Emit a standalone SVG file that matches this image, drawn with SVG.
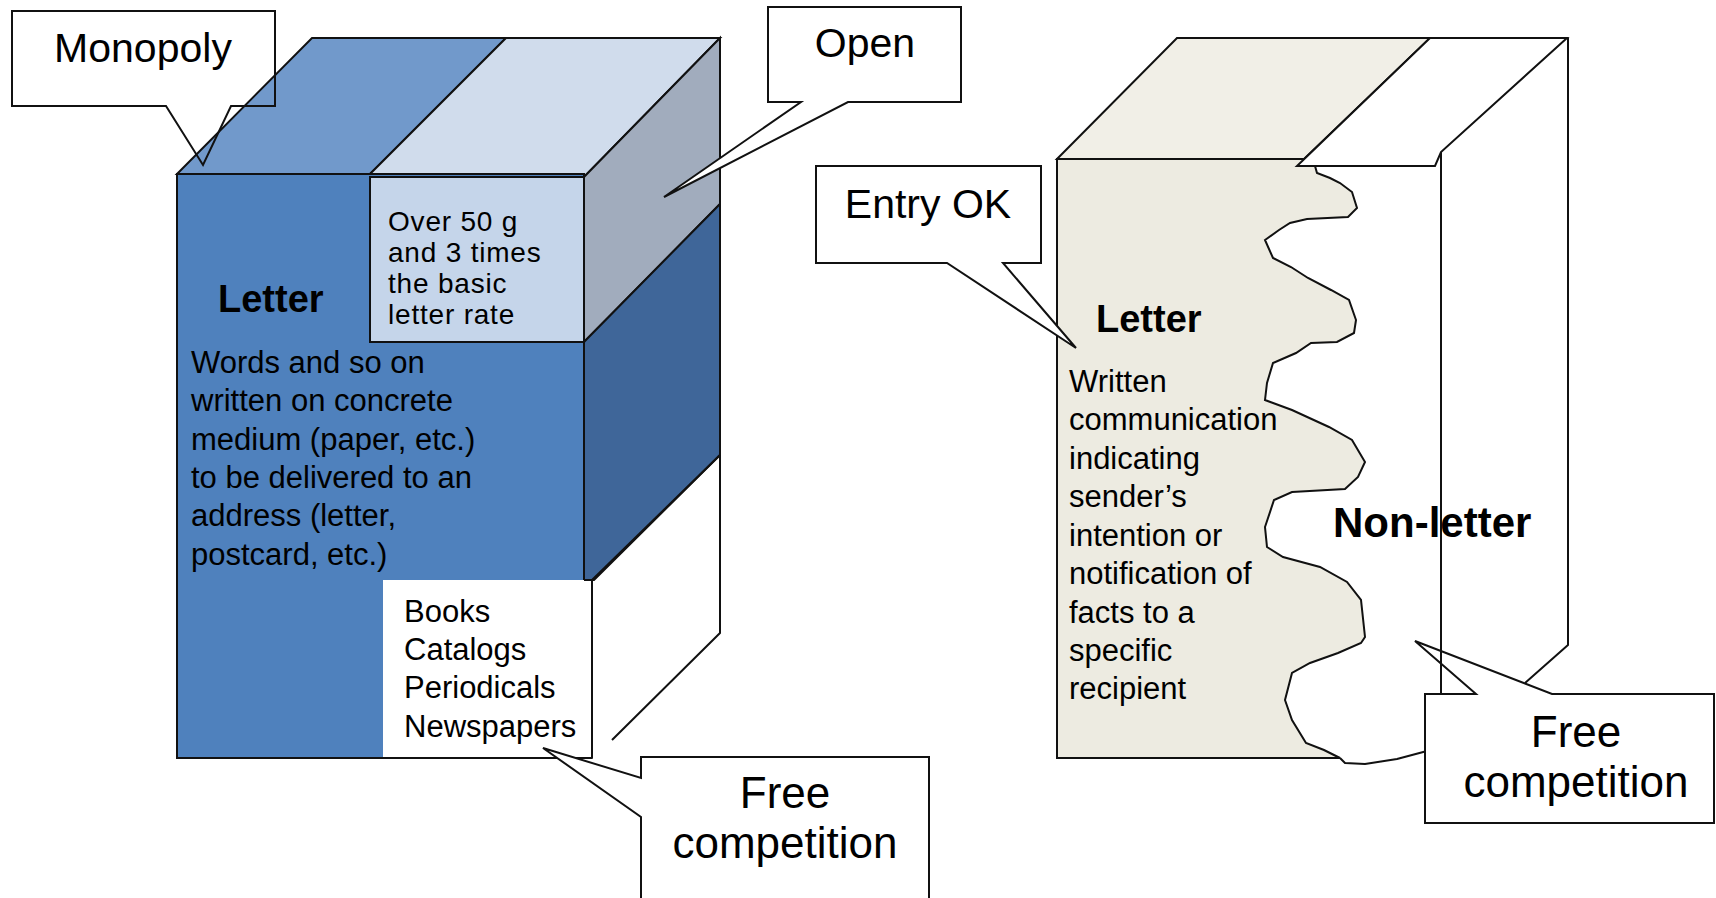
<svg xmlns="http://www.w3.org/2000/svg" width="1716" height="898" viewBox="0 0 1716 898">
<style>
.t{font-family:"Liberation Sans",Arial,sans-serif;fill:#000}
.b{font-size:31px}
.o{font-size:28px;letter-spacing:0.8px}
.c{font-size:41px;text-anchor:middle}
.f{font-size:44px;text-anchor:middle}
.h{font-weight:bold}
.s{stroke:#111;stroke-width:2;stroke-linejoin:miter}
.ln{fill:none;stroke:#111;stroke-width:2;stroke-linejoin:round}
</style>
<rect width="1716" height="898" fill="#fff"/>

<g id="cube-left">
  <polygon class="s" points="177,174 312,38 506,38 370,174" fill="#7199CB"/>
  <polygon class="s" points="370,174 506,38 720,38 584,177" fill="#D0DCEC"/>
  <polygon class="s" points="584,177 720,38 720,204 584,342" fill="#A1ACBD"/>
  <polygon class="s" points="584,342 720,204 720,455 594,580 584,580" fill="#3F6699"/>
  <rect class="s" x="177" y="174" width="407" height="584" fill="#4F81BD"/>
  <rect class="s" x="370" y="177" width="214" height="165" fill="#C5D5EA"/>
  <rect x="383" y="580" width="209" height="177" fill="#fff"/>
  <polyline class="ln" points="584,580 592,580 592,758 177,758"/>
  <polyline class="ln" points="720,455 720,633 612,740"/>
  <line class="ln" x1="592" y1="580" x2="720" y2="455"/>
  <text class="t h" x="218" y="312" font-size="38">Letter</text>
  <text class="t o"><tspan x="388" y="231">Over 50 g</tspan><tspan x="388" y="262">and 3 times</tspan><tspan x="388" y="293">the basic</tspan><tspan x="388" y="324">letter rate</tspan></text>
  <text class="t b"><tspan x="191" y="373">Words and so on</tspan><tspan x="191" y="411">written on concrete</tspan><tspan x="191" y="450">medium (paper, etc.)</tspan><tspan x="191" y="488">to be delivered to an</tspan><tspan x="191" y="526">address (letter,</tspan><tspan x="191" y="565">postcard, etc.)</tspan></text>
  <text class="t b"><tspan x="404" y="622">Books</tspan><tspan x="404" y="660">Catalogs</tspan><tspan x="404" y="698">Periodicals</tspan><tspan x="404" y="737">Newspapers</tspan></text>
</g>

<g id="cube-right">
  <polygon class="s" points="1057,159 1177,38 1430,38 1304,159" fill="#F1EFE7"/>
  <path class="s" fill="#EDEBE1" d="M1057,159 L1304,159 L1315,166 L1317,173 L1330,178 L1340,183 L1352,192 L1357,208 L1348,217 L1307,219 L1290,223 L1279,230 L1265,240 L1273,258 L1291,267 L1308,278 L1331,290 L1349,300 L1356,320 L1354,333 L1337,342 L1311,343 L1296,353 L1273,363 L1267,383 L1265,400 L1292,410 L1329,427 L1352,440 L1365,462 L1358,477 L1345,489 L1292,492 L1274,500 L1265,527 L1267,547 L1283,557 L1320,567 L1347,582 L1361,600 L1365,637 L1361,643 L1338,653 L1310,663 L1292,673 L1285,700 L1292,720 L1306,743 L1324,750 L1340,758 L1057,758 Z"/>
  <polyline class="ln" points="1340,758 1345,763 1365,764 1397,759 1427,751"/>
  <polygon class="s" points="1430,38 1567,38 1441,152 1435,166 1297,166" fill="#fff"/>
  <polyline class="ln" points="1568,38 1568,645 1525,683"/>
  <text class="t h" x="1096" y="332" font-size="38">Letter</text>
  <text class="t b"><tspan x="1069" y="392">Written</tspan><tspan x="1069" y="430">communication</tspan><tspan x="1069" y="469">indicating</tspan><tspan x="1069" y="507">sender’s</tspan><tspan x="1069" y="546">intention or</tspan><tspan x="1069" y="584">notification of</tspan><tspan x="1069" y="623">facts to a</tspan><tspan x="1069" y="661">specific</tspan><tspan x="1069" y="699">recipient</tspan></text>
</g>

<g id="callout-monopoly">
  <polygon class="s" fill="none" points="12,11 275,11 275,106 231,106 203,165 166,106 12,106"/>
  <text class="t c" x="143" y="62">Monopoly</text>
</g>
<g id="callout-open">
  <polygon class="s" fill="#fff" points="768,7 961,7 961,102 848,102 664,197 801,102 768,102"/>
  <text class="t c" x="865" y="57">Open</text>
</g>
<g id="callout-entry">
  <polygon class="s" fill="#fff" points="816,166 1041,166 1041,263 1003,263 1076,348 947,263 816,263"/>
  <text class="t c" x="928" y="218">Entry OK</text>
</g>
<g id="callout-free-left">
  <polygon class="s" fill="#fff" points="641,757 929,757 929,902 641,902 641,817 543,748 641,778"/>
  <text class="t f" x="785" y="808">Free</text>
  <text class="t f" x="785" y="858">competition</text>
</g>
<g id="callout-free-right">
  <polygon class="s" fill="#fff" points="1425,694 1476,694 1415,641 1552,694 1714,694 1714,823 1425,823"/>
  <text class="t f" x="1576" y="747">Free</text>
  <text class="t f" x="1576" y="797">competition</text>
</g>

<g id="connectors">
  <line class="ln" x1="1441" y1="152" x2="1441" y2="694"/>
</g>
<text class="t h" x="1333" y="537" font-size="42">Non-letter</text>
</svg>
